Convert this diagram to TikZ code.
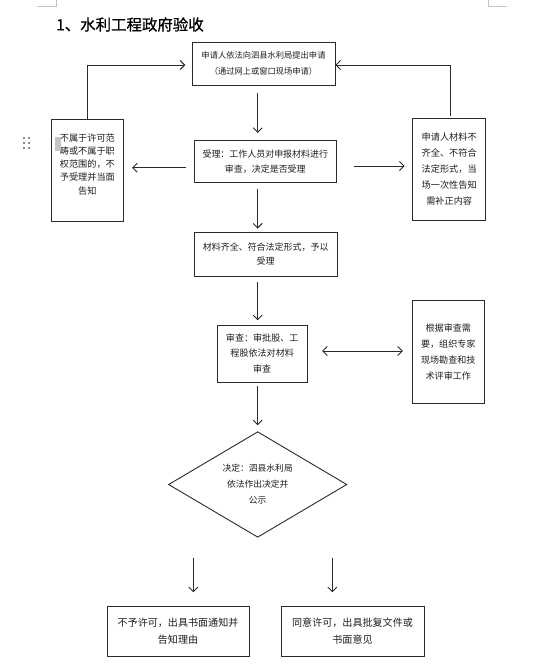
\documentclass[tikz,border=0pt]{standalone}
\usepackage{fontspec}
\newfontfamily\cjk{Noto Sans CJK SC}
\newfontfamily\cjktitle{Noto Sans CJK SC}[FakeBold=0.8]
\usetikzlibrary{arrows.meta,shapes.geometric}
\definecolor{linec}{HTML}{2A2A2A}
\definecolor{textc}{HTML}{1E1E1E}
\definecolor{markc}{HTML}{C4C4C4}
\definecolor{gripc}{HTML}{8A8A8A}
\tikzset{
  box/.style={draw=linec, line width=0.9bp, align=center, inner sep=0pt, text=textc},
  fs/.style={font=\cjk\fontsize{9}{#1}\selectfont},
  arr/.style={draw=linec, line width=0.9bp, -{Straight Barb[length=4.5bp,width=9bp]}},
  dblarr/.style={draw=linec, line width=0.9bp, {Straight Barb[length=4.5bp,width=9bp]}-{Straight Barb[length=4.5bp,width=9bp]}},
  cornermark/.style={draw=markc, line width=0.8bp},
}
\begin{document}
\begin{tikzpicture}[x=1bp,y=-1bp]
\useasboundingbox[fill=white] (0,0) rectangle (554,669);
% page corner marks
\draw[cornermark] (56,0) -- (56,6) -- (37,6);
\draw[cornermark] (488,0) -- (488,6) -- (507,6);
% grip icon
\foreach \gx in {24,28.7}{\foreach \gy in {138,143,148}{
  \fill[gripc] (\gx-1.2,\gy-1.2) rectangle (\gx+1.2,\gy+1.2);}}
% title
\node[anchor=west, inner sep=0pt, font=\cjktitle\fontsize{15.5}{18}\selectfont, text=black] (title) at (56,24.5) {1、水利工程政府验收};
% boxes
\node[box, font=\cjk\fontsize{8.3}{16}\selectfont, minimum width=143bp, minimum height=43.5bp] (b1) at (263.5,63.75) {申请人依法向泗县水利局提出申请\\（通过网上或窗口现场申请）};
\node[box, fs=15, minimum width=142.7bp, minimum height=42bp] (b2) at (265.3,161.7) {受理：工作人员对申报材料进行\\审查，决定是否受理};
\node[box, font=\cjk\fontsize{9.2}{13.2}\selectfont, minimum width=71.8bp, minimum height=102.4bp] (L) at (87.4,170.5) {不属于许可范\\畴或不属于职\\权范围的，不\\予受理并当面\\告知\\\mbox{}};
\node[box, font=\cjk\fontsize{9.2}{16}\selectfont, minimum width=73bp, minimum height=101.5bp] (R) at (449.2,169.25) {申请人材料不\\齐全、不符合\\法定形式，当\\场一次性告知\\需补正内容};
\node[box, fs=14, minimum width=143.3bp, minimum height=44.4bp] (b3) at (265.7,254.5) {材料齐全、符合法定形式，予以\\受理};
\node[box, font=\cjk\fontsize{9.1}{16}\selectfont, minimum width=89.7bp, minimum height=57bp] (b4) at (262.2,353.5) {审查：审批股、工\\程股依法对材料\\审查};
\node[box, font=\cjk\fontsize{9.1}{16.3}\selectfont, minimum width=72bp, minimum height=102.6bp] (b5) at (448.3,352) {根据审查需\\要，组织专家\\现场勘查和技\\术评审工作};
\node[box, shape=diamond, aspect=1.69, font=\cjk\fontsize{8.8}{16}\selectfont, minimum width=178.4bp, minimum height=105.6bp] (D) at (257.7,484.5) {决定：泗县水利局\\依法作出决定并\\公示};
\node[box, font=\cjk\fontsize{10.1}{17}\selectfont, minimum width=142bp, minimum height=50bp] (b6) at (178,631) {不予许可，出具书面通知并\\告知理由};
\node[box, font=\cjk\fontsize{10.1}{17}\selectfont, minimum width=143bp, minimum height=50bp] (b7) at (352.5,631) {同意许可，出具批复文件或\\书面意见};
% cursor artefact
\fill[markc] (55,137) rectangle (60.5,151);
% main vertical flow
\draw[arr] ([yshift=-7.2bp]b1.south -| D.north) -- ([yshift=7.4bp]b2.north -| D.north);
\draw[arr] ([yshift=-5.6bp]b2.south -| D.north) -- ([yshift=3.3bp]b3.north -| D.north);
\draw[arr] ([yshift=-5bp]b3.south -| D.north) -- ([yshift=4.3bp]b4.north -| D.north);
\draw[arr] ([yshift=-4bp]b4.south -| D.north) -- ([yshift=6bp]D.north);
% side branches from b2
\draw[arr] ([xshift=-8bp,yshift=-6bp]b2.west) coordinate (t1) -- ([xshift=8.4bp]L.east |- t1);
\draw[arr] ([xshift=16.6bp,yshift=-4.3bp]b2.east) coordinate (t2) -- ([xshift=-7.7bp]R.west |- t2);
% feedback to b1
\draw[arr] ([xshift=0.3bp]L.north) |- ([xshift=-6.3bp,yshift=-1.25bp]b1.west);
\draw[arr] ([xshift=1.5bp,yshift=1.8bp]R.north) |- ([yshift=-1.25bp]b1.east);
% review <-> expert
\draw[dblarr] ([xshift=14.7bp,yshift=2.5bp]b4.east) coordinate (t3) -- ([xshift=-9bp]b5.west |- t3);
% decision branches
\coordinate (d6) at ([xshift=-64.4bp,yshift=-20.6bp]D.south);
\coordinate (d7) at ([xshift=74.6bp,yshift=-20.6bp]D.south);
\draw[arr] (d6) -- ([yshift=13.3bp]d6 |- b6.north);
\draw[arr] (d7) -- ([yshift=13.3bp]d7 |- b7.north);
\end{tikzpicture}
\end{document}
